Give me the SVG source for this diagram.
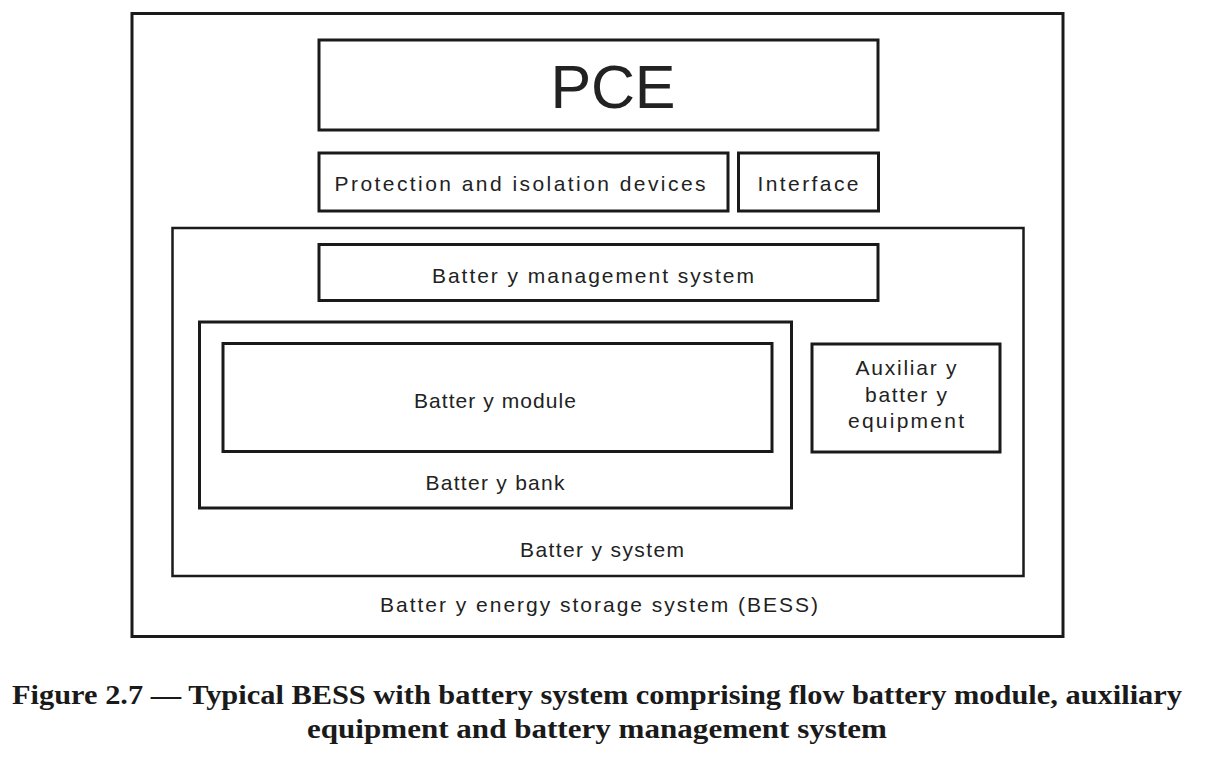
<svg xmlns="http://www.w3.org/2000/svg" width="1210" height="766" viewBox="0 0 1210 766">
<style>
.box{fill:none;stroke:#1a1a1a;stroke-width:3}
.thin{fill:none;stroke:#1a1a1a;stroke-width:2.5}
.lbl{font-family:"Liberation Sans",Arial,sans-serif;font-size:21px;fill:#222;text-anchor:middle}
.cap{font-family:"Liberation Serif","DejaVu Serif",serif;font-weight:bold;font-size:27px;fill:#1a1a1a;text-anchor:middle}
</style>
<rect width="1210" height="766" fill="#fff"/>
<g id="bess">
<rect class="box" x="132" y="13.5" width="931" height="623"/>
<text class="lbl" x="599" y="612" textLength="438" lengthAdjust="spacing">Batter y energy storage system (BESS)</text>
</g>
<g id="pce">
<rect class="box" x="319" y="40" width="559" height="90"/>
<text class="lbl" x="613" y="108" style="font-size:61px" textLength="125" lengthAdjust="spacing">PCE</text>
</g>
<g id="protection">
<rect class="box" x="319" y="153" width="409" height="58"/>
<text class="lbl" x="520" y="191" textLength="371" lengthAdjust="spacing">Protection and isolation devices</text>
</g>
<g id="interface">
<rect class="box" x="738.5" y="153" width="140" height="58"/>
<text class="lbl" x="808" y="191" textLength="101" lengthAdjust="spacing">Interface</text>
</g>
<g id="battery-system">
<rect class="thin" x="172.5" y="228" width="851" height="348"/>
<text class="lbl" x="602" y="557" textLength="164" lengthAdjust="spacing">Batter y system</text>
</g>
<g id="bms">
<rect class="box" x="319" y="244.5" width="559" height="56"/>
<text class="lbl" x="593" y="283" textLength="322" lengthAdjust="spacing">Batter y management  system</text>
</g>
<g id="battery-bank">
<rect class="box" x="199.5" y="322" width="592" height="186"/>
<text class="lbl" x="495" y="490" textLength="139" lengthAdjust="spacing">Batter y bank</text>
</g>
<g id="battery-module">
<rect class="box" x="223" y="343.5" width="549" height="108"/>
<text class="lbl" x="495" y="408" textLength="162" lengthAdjust="spacing">Batter y module</text>
</g>
<g id="auxiliary">
<rect class="box" x="812" y="344" width="188" height="108"/>
<text class="lbl" x="906" y="375" textLength="101" lengthAdjust="spacing">Auxiliar y</text>
<text class="lbl" x="906" y="402" textLength="82" lengthAdjust="spacing">batter y</text>
<text class="lbl" x="906" y="428" textLength="116" lengthAdjust="spacing">equipment</text>
</g>
<g id="connectors"></g>
<g id="caption">
<text class="cap" x="597" y="704" textLength="1170" lengthAdjust="spacingAndGlyphs">Figure 2.7 — Typical BESS with battery system comprising flow battery module, auxiliary</text>
<text class="cap" x="597" y="738" textLength="580" lengthAdjust="spacingAndGlyphs">equipment and battery management system</text>
</g>
</svg>
